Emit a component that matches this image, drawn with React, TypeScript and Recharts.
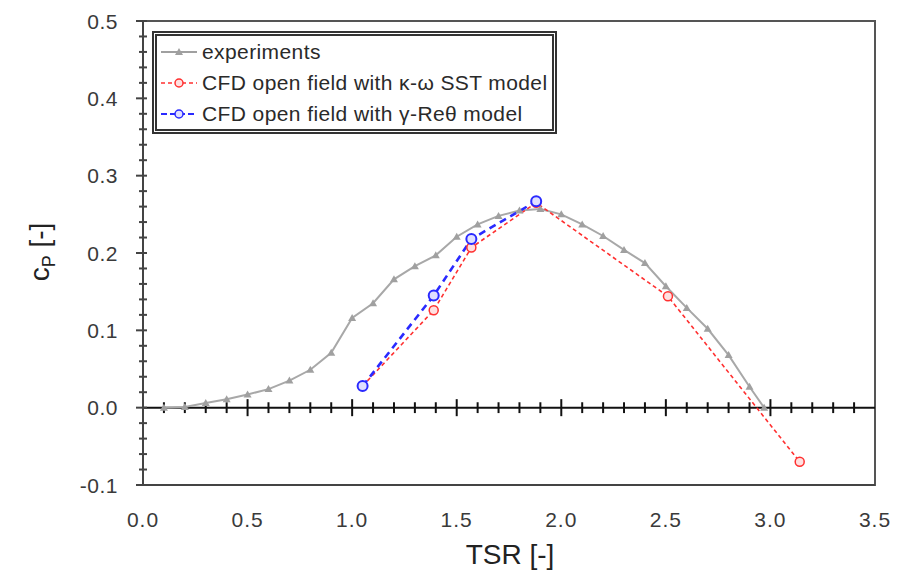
import React from "react";
import {
  ComposedChart, Line, XAxis, YAxis, ReferenceLine, ReferenceArea,
} from "recharts";

// experiments (gray triangles)
const expTsr = [0.1, 0.2, 0.3, 0.4, 0.5, 0.6, 0.7, 0.8, 0.9, 1.0, 1.1, 1.2, 1.3, 1.4, 1.5, 1.6, 1.7, 1.8, 1.9, 2.0, 2.1, 2.2, 2.3, 2.4, 2.5, 2.6, 2.7, 2.8, 2.9, 2.97];
const expCp = [0.0, 0.001, 0.006, 0.011, 0.017, 0.024, 0.035, 0.049, 0.071, 0.116, 0.135, 0.166, 0.183, 0.197, 0.221, 0.237, 0.248, 0.255, 0.257, 0.25, 0.237, 0.222, 0.204, 0.187, 0.157, 0.129, 0.102, 0.068, 0.027, 0.0];

// CFD k-omega SST (red)
const sstTsr = [1.05, 1.39, 1.57, 1.88, 2.51, 3.14];
const sstCp = [0.028, 0.126, 0.207, 0.265, 0.144, -0.07];

// CFD gamma-Re-theta (blue)
const greTsr = [1.05, 1.39, 1.57, 1.88];
const greCp = [0.028, 0.145, 0.218, 0.267];

const xTicks = [0, 0.5, 1.0, 1.5, 2.0, 2.5, 3.0, 3.5];
const yTicks = [-0.1, -0.08, -0.06, -0.04, -0.02, 0, 0.02, 0.04, 0.06, 0.08, 0.1, 0.12, 0.14, 0.16, 0.18, 0.2, 0.22, 0.24, 0.26, 0.28, 0.3, 0.32, 0.34, 0.36, 0.38, 0.4, 0.42, 0.44, 0.46, 0.48, 0.5];
// small ticks drawn on the zero line
const zeroTicks = [0.1, 0.2, 0.3, 0.4, 0.5, 0.6, 0.7, 0.8, 0.9, 1.0, 1.1, 1.2, 1.3, 1.4, 1.5, 1.6, 1.7, 1.8, 1.9, 2.0, 2.1, 2.2, 2.3, 2.4, 2.5, 2.6, 2.7, 2.8, 2.9, 3.0, 3.1, 3.2, 3.3, 3.4];

const expData = expTsr.map((x, i) => ({ x, y: expCp[i] }));
const sstData = sstTsr.map((x, i) => ({ x, y: sstCp[i] }));
const greData = greTsr.map((x, i) => ({ x, y: greCp[i] }));

const FONT = "'Liberation Sans', Arial, sans-serif";
const TEXT = "#3a3a3a";

const Triangle = (props: any) => {
  const { cx, cy } = props;
  if (cx == null || cy == null) return null;
  return <path d={`M${cx},${cy - 4} L${cx + 4},${cy + 3} L${cx - 4},${cy + 3} Z`} fill="#a0a0a0" />;
};

const isMajor = (v: number) => Math.abs(v * 10 - Math.round(v * 10)) < 1e-6;

const YTick = (props: any) => {
  const { x, y, payload } = props;
  const v = payload.value as number;
  const major = isMajor(v);
  return (
    <g>
      <line x1={x - (major ? 7 : 4)} x2={x + 4} y1={y} y2={y} stroke="#444" strokeWidth={2} />
      {major && (
        <text x={x - 25} y={y} textAnchor="end" dominantBaseline="central"
          fontSize={21} fontFamily={FONT} fill={TEXT} letterSpacing={0.5}>
          {v.toFixed(1)}
        </text>
      )}
    </g>
  );
};

const XTick = (props: any) => {
  const { x, y, payload } = props;
  return (
    <text x={x} y={y + 34} textAnchor="middle" dominantBaseline="central"
      fontSize={21} fontFamily={FONT} fill={TEXT} letterSpacing={1}>
      {(payload.value as number).toFixed(1)}
    </text>
  );
};

const LegendBox = () => {
  const row = (icon: React.ReactNode, label: string) => (
    <div style={{ display: "flex", alignItems: "center", height: 32 }}>
      <svg width={40} height={14} style={{ marginRight: 3 }}>{icon}</svg>
      <span>{label}</span>
    </div>
  );
  return (
    <div style={{
      position: "absolute", left: 152, top: 31, boxSizing: "border-box", width: 405, height: 103,
      border: "5px double #333", padding: "0 0 0 2px", background: "#fff",
      fontFamily: FONT, fontSize: 21, color: "#2a2a2a", lineHeight: 1, letterSpacing: 0.4,
      display: "flex", flexDirection: "column", justifyContent: "center",
    }}>
      {row(<>
        <line x1={2} x2={38} y1={7} y2={7} stroke="#a0a0a0" strokeWidth={2} />
        <path d="M20,3 L24,10 L16,10 Z" fill="#a0a0a0" />
      </>, "experiments")}
      {row(<>
        <line x1={2} x2={38} y1={7} y2={7} stroke="#ff3030" strokeWidth={1.5} strokeDasharray="4 3" />
        <circle cx={20} cy={7} r={4} fill="#ffe0e0" stroke="#ff3030" strokeWidth={1.5} />
      </>, "CFD open field with \u03ba-\u03c9 SST model")}
      {row(<>
        <line x1={2} x2={38} y1={7} y2={7} stroke="#2a2aff" strokeWidth={2} strokeDasharray="6 3" />
        <circle cx={20} cy={7} r={4} fill="#e0e0ff" stroke="#2a2aff" strokeWidth={1.5} />
      </>, "CFD open field with \u03b3-Re\u03b8 model")}
    </div>
  );
};

export default function App() {
  return (
    <div style={{ position: "absolute", left: 0, top: 0, width: 901, height: 578, background: "#fff" }}>
      <ComposedChart width={901} height={578} margin={{ top: 21, right: 26, bottom: 33, left: 63 }}>
        <XAxis
          dataKey="x" type="number" domain={[0, 3.5]} ticks={xTicks}
          allowDataOverflow tickLine={false} tickSize={0} tickMargin={0}
          axisLine={{ stroke: "#444", strokeWidth: 2 }} height={60} tick={<XTick />}
        />
        <YAxis
          dataKey="y" type="number" domain={[-0.1, 0.5]} ticks={yTicks} interval={0}
          allowDataOverflow tickLine={false} tickSize={0} tickMargin={0}
          axisLine={{ stroke: "#444", strokeWidth: 2 }} width={80} tick={<YTick />}
        />
        <ReferenceArea x1={0} x2={3.5} y1={-0.1} y2={0.5} fill="none" stroke="#555" strokeWidth={2} ifOverflow="visible" />
        <ReferenceLine y={0} stroke="#111" strokeWidth={2} />
        {zeroTicks.map((t) => (
          <ReferenceLine
            key={t}
            segment={[{ x: t, y: isMajor(t * 0.2) ? -0.011 : -0.007 }, { x: t, y: isMajor(t * 0.2) ? 0.011 : 0.007 }]}
            stroke="#111" strokeWidth={2}
          />
        ))}
        <Line data={expData} dataKey="y" type="linear" stroke="#a8a8a8" strokeWidth={2}
          dot={<Triangle />} activeDot={false} isAnimationActive={false} />
        <Line data={sstData} dataKey="y" type="linear" stroke="#ff3030" strokeWidth={1.6}
          strokeDasharray="4 3"
          dot={{ r: 4.5, fill: "#ffe0e0", stroke: "#ff3030", strokeWidth: 1.5, strokeDasharray: "" }}
          activeDot={false} isAnimationActive={false} />
        <Line data={greData} dataKey="y" type="linear" stroke="#2a2aff" strokeWidth={2.6}
          strokeDasharray="7 5"
          dot={{ r: 5, fill: "#e0e0ff", stroke: "#2a2aff", strokeWidth: 2, strokeDasharray: "" }}
          activeDot={false} isAnimationActive={false} />
      </ComposedChart>
      <LegendBox />
      <div style={{
        position: "absolute", left: 510, top: 555, transform: "translate(-50%, -50%)",
        fontFamily: FONT, fontSize: 28, color: "#222", whiteSpace: "nowrap",
      }}>TSR [-]</div>
      <div style={{
        position: "absolute", left: 42, top: 252, transform: "translate(-50%, -50%) rotate(-90deg)",
        fontFamily: FONT, fontSize: 28, color: "#222", whiteSpace: "nowrap",
      }}>
        <span>c</span>
        <sub style={{ fontSize: 18 }}>P</sub> [-]
      </div>
    </div>
  );
}
